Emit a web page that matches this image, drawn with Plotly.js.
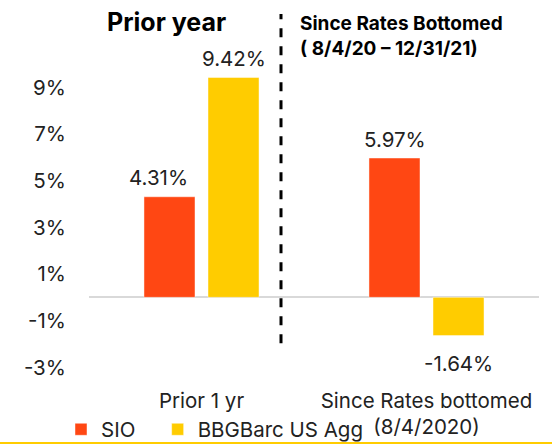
<!DOCTYPE html>
<html>
<head>
<meta charset="utf-8">
<script src="https://cdn.plot.ly/plotly-3.0.1.min.js"></script>
<style>html,body{margin:0;padding:0;background:#fff;}#chart{width:552px;height:444px;}</style>
</head>
<body>
<div id="chart"></div>
<script>
// ---- data ----
var categories = ["Prior 1 yr", "Since Rates bottomed<br>(8/4/2020)"];
var seriesNames = ["SIO", "BBGBarc US Agg"];
var sioValues = [4.31, 5.97];
var aggValues = [9.42, -1.64];
var tickValues = [-3, -1, 1, 3, 5, 7, 9];
var tickLabels = ["-3%", "-1%", "1%", "3%", "5%", "7%", "9%"];
var panelTitles = ["Prior year", "Since Rates Bottomed<br>( 8/4/20 – 12/31/21)"];

var FONT = "Inter, 'Liberation Sans', Arial, sans-serif";
var FS = 20.5;
var colors = ["#FF4713", "#FFCC00"];
var PAD = "\u00a0\u00a0\u00a0";

var traces = [
  {type: "bar", name: seriesNames[0] + PAD, x: categories, y: sioValues,
   marker: {color: colors[0], line: {color: "rgba(255,255,255,0.45)", width: 1}}, hoverinfo: "none"},
  {type: "bar", name: seriesNames[1], x: categories, y: aggValues,
   marker: {color: colors[1], line: {color: "rgba(255,255,255,0.45)", width: 1}}, hoverinfo: "none"}
];

var annotations = [];
var seriesVals = [sioValues, aggValues];
seriesVals.forEach(function (vals, s) {
  vals.forEach(function (v, i) {
    annotations.push({
      x: categories[i], y: v, xref: "x", yref: "y",
      text: v.toFixed(2) + "%", showarrow: false,
      xshift: (s === 0 ? -32 : 32) + (s === 0 && i === 0 ? -11 : 0),
      yshift: v >= 0 ? 19 : -28,
      yanchor: "middle",
      font: {family: FONT, size: FS, color: "#222"}
    });
  });
});
annotations.push({
  xref: "paper", yref: "paper", x: (166 - 89) / 450, y: 1 + (64 - 22) / 314.6,
  text: "<b>" + panelTitles[0] + "</b>", showarrow: false, xanchor: "center", yanchor: "middle",
  font: {family: FONT, size: 25, color: "#000"}
});
annotations.push({
  xref: "paper", yref: "paper", x: (298 - 89) / 450, y: 1 + (64 - 10) / 314.6,
  text: "<b>" + panelTitles[1] + "</b>", showarrow: false, xanchor: "left", yanchor: "top", align: "left",
  font: {family: FONT, size: 19, color: "#000"}
});

var layout = {
  width: 552, height: 444,
  margin: {l: 89, r: 13, t: 64, b: 65.4, pad: 0, autoexpand: false},
  paper_bgcolor: "#fff", plot_bgcolor: "#fff",
  barmode: "group", bargap: 0.431, bargroupgap: 0.203,
  font: {family: FONT, size: FS, color: "#222"},
  showlegend: true,
  legend: {orientation: "h", x: (61 - 89) / 450, y: -(429 - 378.6) / 314.6, xanchor: "left", yanchor: "middle",
           font: {family: FONT, size: FS, color: "#222"}, itemwidth: 30,
           bgcolor: "rgba(0,0,0,0)"},
  xaxis: {type: "category", showgrid: false, zeroline: false, showline: false,
          ticks: "outside", ticklen: 3, tickcolor: "rgba(0,0,0,0)",
          tickfont: {family: FONT, size: FS, color: "#222"}, fixedrange: true},
  yaxis: {range: [-3.5, 10], tickvals: tickValues, ticktext: tickLabels, showgrid: false,
          zeroline: true, zerolinecolor: "#d9d9d9", zerolinewidth: 2, showline: false,
          ticks: "outside", ticklen: 18, tickcolor: "rgba(0,0,0,0)",
          tickfont: {family: FONT, size: FS, color: "#222"}, fixedrange: true},
  annotations: annotations,
  shapes: [
    {type: "line", xref: "paper", yref: "paper", x0: (281 - 89) / 450, x1: (281 - 89) / 450,
     y0: -(343 - 378.6) / 314.6, y1: 1 + (64 - 14) / 314.6,
     line: {color: "#000", width: 3, dash: "dash"}},
    {type: "line", xref: "paper", yref: "paper", x0: -89 / 450, x1: 1 + 13 / 450,
     y0: -(443 - 378.6) / 314.6, y1: -(443 - 378.6) / 314.6,
     line: {color: "#FFCC00", width: 3}}
  ]
};

Plotly.newPlot("chart", traces, layout, {staticPlot: true, displayModeBar: false});
</script>
</body>
</html>
